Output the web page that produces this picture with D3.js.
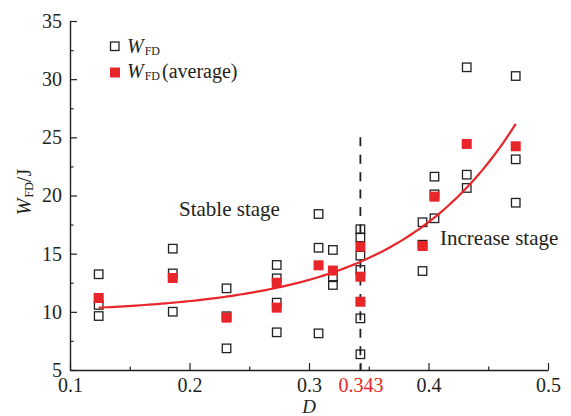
<!DOCTYPE html>
<html>
<head>
<meta charset="utf-8">
<script src="https://cdn.jsdelivr.net/npm/d3@7"></script>
<style>
  html, body { margin: 0; padding: 0; background: #fff; }
  svg { display: block; }
  svg text { font-family: "Liberation Serif", "Times New Roman", serif; }
</style>
</head>
<body>
<svg id="chart" width="571" height="416"></svg>
<script>
// Individual W_FD measurements (open squares)
const rawD = [
  0.124, 0.124, 0.124,
  0.186, 0.186, 0.186,
  0.231, 0.231, 0.231,
  0.273, 0.273, 0.273, 0.273,
  0.308, 0.308, 0.308,
  0.320, 0.320, 0.320,
  0.343, 0.343, 0.343, 0.343, 0.343, 0.343,
  0.395, 0.395, 0.395,
  0.405, 0.405, 0.405,
  0.432, 0.432, 0.432,
  0.473, 0.473, 0.473
];
const rawW = [
  13.23, 10.59, 9.64,
  15.43, 13.30, 10.01,
  12.02, 9.62, 6.86,
  14.03, 12.88, 10.79, 8.24,
  18.41, 15.51, 8.15,
  15.32, 12.97, 12.31,
  17.10, 16.40, 14.83, 13.60, 9.44, 6.35,
  17.70, 15.77, 13.51,
  21.62, 20.10, 18.04,
  31.02, 21.79, 20.65,
  30.27, 23.11, 19.38
];

// Averaged W_FD (filled red squares)
const avgD = [0.124, 0.186, 0.231, 0.273, 0.273, 0.308, 0.320, 0.343, 0.343, 0.343, 0.395, 0.405, 0.432, 0.473];
const avgW = [11.19, 12.91, 9.50, 12.50, 10.36, 14.00, 13.55, 15.60, 13.02, 10.87, 15.66, 19.90, 24.43, 24.23];

// Exponential fit W = fitA + fitB * exp(fitC * D)
const fitA = 9.86, fitB = 0.1438, fitC = 10;
const fitRange = [0.124, 0.473];

// Critical damage value
const criticalD = 0.343;

// Axis ticks
const xTicks = [0.1, 0.2, 0.3, 0.343, 0.4, 0.5];
const xMinor = [0.15, 0.25, 0.35, 0.45];
const yTicks = [5, 10, 15, 20, 25, 30, 35];
const yMinor = [7.5, 12.5, 17.5, 22.5, 27.5, 32.5];

const RED = "#e8262a";
const INK = "#231f20";

const svg = d3.select("#chart");
const x = d3.scaleLinear().domain([0.1, 0.5]).range([70, 548]);
const y = d3.scaleLinear().domain([5, 35]).range([370, 21]);

// Minor ticks
svg.append("g").attr("transform", "translate(0,370)")
  .call(d3.axisBottom(x).tickValues(xMinor).tickSize(-3.5).tickFormat(""))
  .call(g => g.select(".domain").remove());
svg.append("g").attr("transform", "translate(70,0)")
  .call(d3.axisLeft(y).tickValues(yMinor).tickSize(-3.5).tickFormat(""))
  .call(g => g.select(".domain").remove());

// Major axes
const xAxis = svg.append("g").attr("transform", "translate(0,370)")
  .call(d3.axisBottom(x).tickValues(xTicks).tickSize(-7).tickSizeOuter(0)
        .tickFormat(d => d === criticalD ? "0.343" : d3.format(".1f")(d)));
xAxis.selectAll("text")
  .attr("y", 22).attr("dy", null)
  .attr("font-size", 20)
  .attr("fill", d => d === criticalD ? RED : INK);

const yAxis = svg.append("g").attr("transform", "translate(70,0)")
  .call(d3.axisLeft(y).tickValues(yTicks).tickSize(-7).tickSizeOuter(0).tickPadding(8));
yAxis.selectAll("text").attr("font-size", 20).attr("fill", INK);

svg.selectAll(".tick line").attr("stroke", INK).attr("stroke-width", 1.2);
svg.selectAll(".domain").attr("stroke", INK).attr("stroke-width", 1.4);

// Critical line
svg.append("line")
  .attr("x1", x(criticalD)).attr("x2", x(criticalD))
  .attr("y1", y(25)).attr("y2", y(5))
  .attr("stroke", INK).attr("stroke-width", 1.8)
  .attr("stroke-dasharray", "9,8.4");

// Open squares
const so = 8.5;
svg.append("g").selectAll("rect").data(rawD.map((d, i) => [d, rawW[i]]))
  .join("rect")
  .attr("x", d => x(d[0]) - so / 2).attr("y", d => y(d[1]) - so / 2)
  .attr("width", so).attr("height", so)
  .attr("fill", "none").attr("stroke", INK).attr("stroke-width", 1.3);

// Average squares
const sa = 10;
svg.append("g").selectAll("rect").data(avgD.map((d, i) => [d, avgW[i]]))
  .join("rect")
  .attr("x", d => x(d[0]) - sa / 2).attr("y", d => y(d[1]) - sa / 2)
  .attr("width", sa).attr("height", sa)
  .attr("fill", RED);

// Fitted curve
const fitPts = d3.range(0, 101).map(i => {
  const d = fitRange[0] + (fitRange[1] - fitRange[0]) * i / 100;
  return [d, fitA + fitB * Math.exp(fitC * d)];
});
svg.append("path")
  .attr("d", d3.line().x(d => x(d[0])).y(d => y(d[1]))(fitPts))
  .attr("fill", "none").attr("stroke", RED).attr("stroke-width", 2.2);

// Stage labels
svg.append("text").attr("x", 179).attr("y", 216).attr("font-size", 21).attr("fill", INK)
  .text("Stable stage");
svg.append("text").attr("x", 440).attr("y", 245).attr("font-size", 21).attr("fill", INK)
  .text("Increase stage");

// Legend
const leg = svg.append("g");
leg.append("rect").attr("x", 110.5).attr("y", 42).attr("width", so).attr("height", so)
  .attr("fill", "none").attr("stroke", INK).attr("stroke-width", 1.3);
leg.append("rect").attr("x", 110).attr("y", 67.5).attr("width", sa).attr("height", sa)
  .attr("fill", RED);
const l1 = leg.append("text").attr("x", 127).attr("y", 53).attr("font-size", 20).attr("fill", INK);
l1.append("tspan").attr("font-style", "italic").text("W");
l1.append("tspan").attr("font-size", 12).attr("dy", 2).attr("dx", 1).text("FD");
const l2 = leg.append("text").attr("x", 127).attr("y", 78).attr("font-size", 20).attr("fill", INK);
l2.append("tspan").attr("font-style", "italic").text("W");
l2.append("tspan").attr("font-size", 12).attr("dy", 2).attr("dx", 1).text("FD");
l2.append("tspan").attr("dy", -2).attr("dx", 2).text("(average)");

// Axis titles
svg.append("text").attr("x", 309).attr("y", 413).attr("text-anchor", "middle")
  .attr("font-size", 19).attr("font-style", "italic").attr("fill", INK).text("D");
const yt = svg.append("text").attr("transform", "translate(31,192) rotate(-90)")
  .attr("text-anchor", "middle").attr("font-size", 20).attr("fill", INK);
yt.append("tspan").attr("font-style", "italic").text("W");
yt.append("tspan").attr("font-size", 12).attr("dy", 2).attr("dx", 1).text("FD");
yt.append("tspan").attr("dy", -2).text("/J");
</script>
</body>
</html>
